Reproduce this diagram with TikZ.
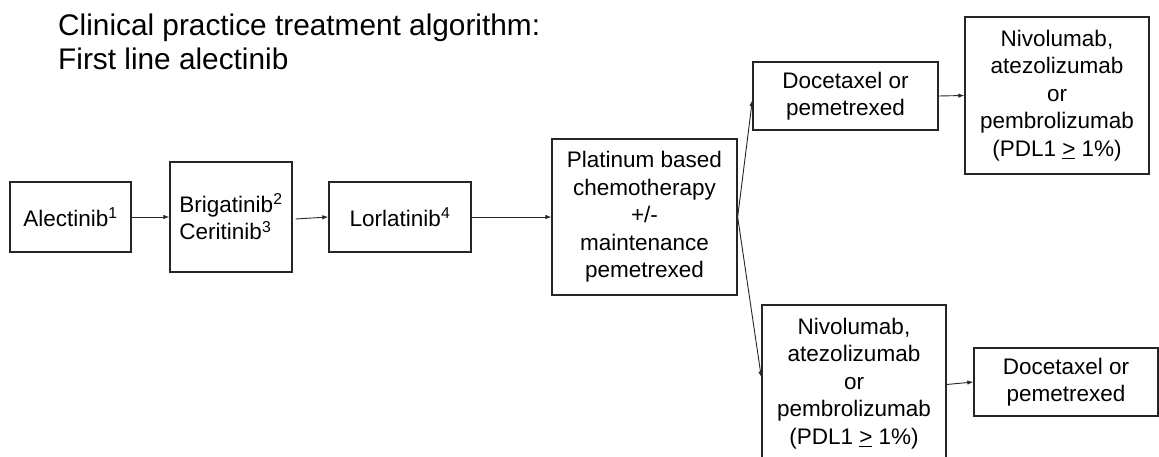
\documentclass[tikz,border=0pt]{standalone}
\usepackage{fontspec}
\setmainfont{Liberation Sans}
\usetikzlibrary{arrows.meta}
\tikzset{
  stepbox/.style={draw=black!85, line width=1.3pt, align=center, inner sep=0pt,
    font=\fontsize{22.5}{27.5}\selectfont},
  conn/.style={draw=black!85, line width=0.9pt, -{Latex[length=6pt,width=4.5pt]}},
  titletext/.style={anchor=base west, inner sep=0pt, font=\fontsize{29.8}{34}\selectfont}
}
\begin{document}
\begin{tikzpicture}[x=1pt,y=-1pt]
\useasboundingbox (0,0) rectangle (1159,457);
\node[titletext] (title1) at (58,36) {Clinical practice treatment algorithm:};
\node[titletext] (title2) at (58,70) {First line alectinib};

\node[stepbox, minimum width=121pt, minimum height=70pt] (alec) at (70.5,217) {Alectinib\textsuperscript{1}};
\node[stepbox, align=left, minimum width=122pt, minimum height=110pt] (brig) at (231,217) {Brigatinib\textsuperscript{2}\\Ceritinib\textsuperscript{3}};
\node[stepbox, minimum width=142pt, minimum height=70pt] (lorl) at (400,217) {Lorlatinib\textsuperscript{4}};
\node[stepbox, minimum width=185pt, minimum height=156pt] (plat) at (644.5,217) {Platinum based\\chemotherapy\\+/-\\maintenance\\pemetrexed};
\node[stepbox, minimum width=185pt, minimum height=68pt] (doc1) at (845.5,96) {Docetaxel or\\pemetrexed};
\node[stepbox, minimum width=184pt, minimum height=157pt] (niv1) at (1057,95.5) {Nivolumab,\\atezolizumab\\or\\pembrolizumab\\(PDL1 \underline{>} 1\%)};
\node[stepbox, minimum width=184pt, minimum height=157pt] (niv2) at (854,383.5) {Nivolumab,\\atezolizumab\\or\\pembrolizumab\\(PDL1 \underline{>} 1\%)};
\node[stepbox, minimum width=184pt, minimum height=68pt] (doc2) at (1066,382) {Docetaxel or\\pemetrexed};

\draw[conn] (alec.east) -- (brig.west);
\draw[conn] ([yshift=-2pt,xshift=3pt]brig.east) -- (lorl.west);
\draw[conn] (lorl.east) -- (plat.west);
\coordinate (split) at (plat.east);
\draw[conn] (split) -- ([yshift=-4pt]doc1.west);
\draw[conn] (split) -- ([yshift=6pt]niv2.west);
\draw[conn] (doc1.east) -- (niv1.west);
\draw[conn] ([yshift=-1pt]niv2.east) -- (doc2.west);
\end{tikzpicture}
\end{document}
